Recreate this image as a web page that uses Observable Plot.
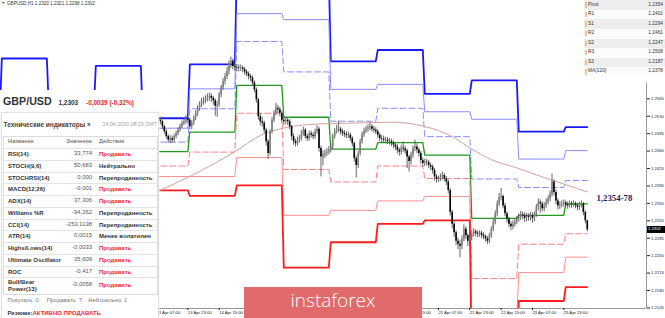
<!DOCTYPE html>
<html lang="ru"><head><meta charset="utf-8">
<script src="https://cdn.jsdelivr.net/npm/d3@7"></script>
<script src="https://cdn.jsdelivr.net/npm/@observablehq/plot@0.6"></script>
<style>
html,body{margin:0;padding:0;background:#fff;}
#wrap{position:relative;width:665px;height:318px;overflow:hidden;background:#fff;font-family:"Liberation Sans",Arial,sans-serif;}
#wrap svg{position:absolute;left:0;top:0;}
.a{position:absolute;white-space:nowrap;line-height:1;}
</style></head><body><div id="wrap"></div>
<script>
// ---------- chart header ----------
const chartTitle = "GBPUSD,H1";
const chartOHLC = ["1.2320", "1.2321", "1.2298", "1.2302"];

// ---------- daily pivot levels (bar index 0 = 13 Apr 00:00, H1 bars) ----------
const days = ["07 Apr","08 Apr","09 Apr","10 Apr","13 Apr","14 Apr","15 Apr","16 Apr","17 Apr","20 Apr","21 Apr","22 Apr","23 Apr","24 Apr"];
const dayFirstBar = [-96,-72,-48,-24,0,24,48,72,96,120,144,168,192,216];
const lastBar = 227;
const pivotR3 = [1.2540,1.2646,1.2545,1.2631,1.2526,1.2634,1.2823,1.2815,1.2640,1.2663,1.2575,1.2602,1.2499,1.2508];
const pivotR2 = [null,null,null,null,1.2506,1.2585,1.2736,1.2724,1.2584,1.2594,1.2539,1.2524,1.2444,1.2461];
const pivotR1 = [null,null,null,null,1.2478,1.2545,1.2680,1.2619,1.2520,1.2546,1.2489,1.2404,1.2387,1.2401];
const pivotP  = [null,null,null,null,1.2459,1.2498,1.2592,1.2528,1.2464,1.2477,1.2452,1.2325,1.2331,1.2354];
const pivotS1 = [null,null,null,null,1.2430,1.2458,1.2536,1.2423,1.2398,1.2430,1.2405,1.2204,1.2273,1.2294];
const pivotS2 = [null,null,null,null,1.2409,1.2409,1.2447,1.2331,1.2341,1.2360,1.2369,1.2127,1.2216,1.2247];
const pivotS3 = [null,null,null,null,1.2381,1.2370,1.2391,1.2226,1.2277,1.2314,1.2321,1.2008,1.2159,1.2187];

// ---------- MA(120) read at some bars ----------
const maBar   = [8,25,47,60,73,85,97,110,127,144,158,168,178,192,204,216,227];
const maValue = [1.23798,1.24112,1.24588,1.24912,1.25073,1.25134,1.25154,1.25165,1.25181,1.25094,1.24891,1.2464,1.2443,1.2425,1.24082,1.23926,1.2378];

// ---------- H1 candles, prices in 1/10000 (open = previous close) ----------
const firstBar = 8;
const firstOpen = 12525;
const closes = [
12522,12519,12509,12499,12489,12482,12485,12482,12489,12495,
12502,12509,12516,12519,12525,12522,12509,12516,12526,12536,
12546,12553,12560,12561,12565,12568,12570,12566,12561,12550,
12553,12573,12587,12600,12610,12620,12634,12641,12630,12628,
12627,12626,12627,12624,12619,12615,12610,12607,12597,12583,
12563,12529,12519,12516,12502,12479,12455,12499,12522,12536,
12546,12543,12536,12522,12519,12522,12519,12509,12489,12479,
12475,12482,12485,12495,12502,12489,12485,12495,12492,12489,
12499,12504,12465,12448,12452,12455,12458,12462,12468,12489,
12499,12504,12504,12499,12495,12493,12491,12492,12485,12475,
12445,12431,12455,12479,12493,12500,12504,12507,12509,12504,
12502,12499,12492,12485,12484,12482,12482,12479,12479,12475,
12472,12468,12462,12458,12466,12464,12460,12448,12439,12452,
12465,12468,12462,12455,12441,12435,12438,12437,12431,12428,
12421,12408,12403,12404,12408,12411,12404,12398,12381,12337,
12313,12296,12279,12273,12269,12283,12303,12290,12279,12286,
12293,12298,12295,12293,12295,12291,12288,12284,12279,12290,
12303,12317,12334,12354,12367,12369,12350,12334,12323,12313,
12308,12313,12318,12323,12327,12332,12330,12325,12329,12327,
12330,12325,12332,12347,12357,12354,12344,12350,12358,12364,
12374,12398,12377,12360,12350,12352,12354,12356,12352,12350,
12354,12352,12354,12350,12347,12352,12354,12337,12320,12302];
const highs = [
12530,12528,12522,12512,12503,12493,12491,12490,12494,12500,
12507,12514,12520,12525,12531,12530,12526,12521,12531,12541,
12551,12559,12566,12568,12571,12575,12577,12575,12570,12565,
12560,12578,12592,12606,12616,12628,12641,12649,12645,12636,
12634,12633,12633,12631,12628,12623,12619,12614,12611,12601,
12587,12566,12535,12528,12520,12506,12483,12503,12527,12541,
12556,12552,12548,12540,12528,12527,12527,12523,12512,12494,
12484,12488,12491,12501,12508,12506,12494,12500,12500,12497,
12504,12511,12508,12470,12460,12462,12465,12469,12475,12494,
12505,12512,12520,12508,12504,12501,12499,12498,12496,12489,
12478,12450,12460,12484,12498,12506,12510,12513,12516,12513,
12510,12507,12503,12496,12491,12490,12488,12487,12485,12484,
12480,12477,12473,12466,12472,12478,12470,12464,12452,12458,
12470,12482,12474,12466,12459,12446,12444,12443,12441,12436,
12432,12425,12413,12410,12414,12418,12415,12409,12402,12385,
12341,12318,12300,12285,12280,12290,12312,12308,12294,12292,
12299,12304,12302,12300,12300,12299,12296,12292,12289,12295,
12308,12323,12340,12360,12375,12385,12372,12355,12338,12327,
12318,12320,12324,12329,12334,12339,12338,12336,12335,12334,
12337,12336,12338,12353,12364,12362,12358,12356,12364,12370,
12380,12414,12402,12382,12364,12358,12360,12362,12360,12358,
12360,12359,12360,12358,12355,12357,12360,12357,12340,12321];
const lows = [
12515,12513,12503,12494,12484,12476,12475,12476,12478,12485,
12491,12498,12505,12511,12514,12516,12503,12503,12512,12521,
12530,12540,12547,12552,12555,12559,12560,12558,12552,12530,
12528,12548,12567,12582,12593,12604,12613,12626,12623,12620,
12619,12619,12620,12617,12612,12609,12603,12600,12590,12577,
12556,12522,12511,12508,12495,12470,12443,12450,12494,12517,
12531,12535,12529,12516,12512,12513,12512,12503,12482,12472,
12468,12470,12476,12480,12490,12484,12479,12480,12486,12483,
12484,12494,12458,12408,12430,12445,12449,12452,12456,12463,
12484,12494,12497,12492,12489,12487,12485,12485,12479,12468,
12438,12406,12425,12450,12474,12488,12495,12498,12501,12498,
12496,12493,12486,12479,12477,12476,12475,12473,12472,12469,
12465,12461,12455,12450,12452,12457,12453,12425,12418,12432,
12446,12459,12455,12448,12434,12428,12429,12430,12425,12421,
12414,12400,12396,12397,12399,12402,12398,12391,12374,12330,
12304,12287,12270,12262,12246,12262,12278,12282,12268,12272,
12280,12288,12288,12286,12287,12284,12282,12277,12272,12274,
12285,12298,12312,12328,12348,12360,12344,12328,12316,12306,
12300,12302,12307,12312,12317,12321,12322,12317,12318,12319,
12320,12315,12318,12327,12340,12335,12338,12338,12345,12352,
12358,12368,12370,12352,12342,12343,12346,12348,12346,12343,
12346,12345,12347,12344,12340,12341,12346,12330,12314,12298];

// ---------- axes ----------
const priceTicks = [1.2145,1.2180,1.2215,1.2250,1.2285,1.2320,1.2355,1.2390,1.2425,1.2460,1.2495,1.2530,1.2565];
const timeTickBar = [7,23,39,55,71,87,103,119,135,151,167,183,199,215];
const timeTickText = ["13 Apr 07:00","13 Apr 23:00","14 Apr 15:00","15 Apr 07:00","15 Apr 23:00","16 Apr 15:00","17 Apr 07:00","17 Apr 23:00","20 Apr 15:00","21 Apr 07:00","21 Apr 23:00","22 Apr 15:00","23 Apr 07:00","23 Apr 23:00"];
const keyLevelText = "1,2354-78";

// ---------- right pivot table ----------
const pivotTableNames  = ["Pivot","R1","S1","R2","S2","R3","S3","MA(120)"];
const pivotTableValues = ["1.2354","1.2401","1.2294","1.2461","1.2247","1.2508","1.2187","1.2378"];

// ---------- left widget ----------
const widgetPair = "GBP/USD";
const widgetPrice = "1,2303";
const widgetChange = "-0,0039 (-0,32%)";
const widgetTitle = "Технические индикаторы";
const widgetDate = "24.04.2020 08:29 GMT";
const widgetHeads = ["Название","Значение","Действие"];
const indicatorNames = ["RSI(14)","STOCH(9,6)","STOCHRSI(14)","MACD(12,26)","ADX(14)","Williams %R","CCI(14)","ATR(14)","Highs/Lows(14)","Ultimate Oscillator","ROC","Bull/Bear\nPower(13)"];
const indicatorValues = ["33,774","50,683","0,000","-0,001","37,306","-94,262","-253,1138","0,0015","-0,0033","35,609","-0,417","-0,0058"];
const indicatorActions = ["Продавать","Нейтрально","Перепроданность","Продавать","Продавать","Перепроданность","Перепроданность","Менее волатилен","Продавать","Продавать","Продавать","Продавать"];
const summaryCounts = ["Покупать: 0","Продавать: 7","Нейтрально: 1"];
const summaryLabel = "Резюме:";
const summaryValue = "АКТИВНО ПРОДАВАТЬ";
const logoText = "instaforex";

// ================= build =================
const logoBox = {x: 244, y: 287, w: 178, h: 31};
function steps(values) {
  const out = [];
  values.forEach((v, k) => {
    if (v == null) return;
    const s = dayFirstBar[k];
    const e = k === days.length - 1 ? lastBar : s + 23;
    out.push({bar: s, price: v}, {bar: e, price: v});
  });
  return out;
}
const levels = [
  {values: pivotR3, stroke: "#1a1aff", width: 1.8},
  {values: pivotR2, stroke: "#8a8aff", width: 1},
  {values: pivotR1, stroke: "#8a8aff", width: 1, dash: "6,3"},
  {values: pivotP,  stroke: "#1f9a1f", width: 1.3},
  {values: pivotS1, stroke: "#ff8080", width: 1, dash: "6,3"},
  {values: pivotS2, stroke: "#ff8f8f", width: 1},
  {values: pivotS3, stroke: "#ff1c1c", width: 1.8}
];
const bars = closes.map((c, k) => ({
  bar: firstBar + k,
  open: (k ? closes[k - 1] : firstOpen) / 1e4,
  close: c / 1e4, high: highs[k] / 1e4, low: lows[k] / 1e4
}));
const ma = maBar.map((b, k) => ({bar: b, price: maValue[k]}));
const xDomain = [-72.68, 257.25];
const yDomain = [1.214393, 1.276242];
const xPix = b => (b - xDomain[0]) / (xDomain[1] - xDomain[0]) * 646;
// labels that sit completely under the logo are hidden in the original, so they are not drawn
const timeTicks = timeTickBar.map((b, k) => ({bar: b, text: timeTickText[k]}));
const visibleTicks = timeTicks.filter(t => !(xPix(t.bar) > logoBox.x && xPix(t.bar) + 28 < logoBox.x + logoBox.w));
const keyLevel = [{bar: lastBar, price: (pivotP[pivotP.length - 1] + maValue[maValue.length - 1]) / 2, text: keyLevelText}];

const plot = Plot.plot({
  width: 665, height: 318,
  marginLeft: 0, marginRight: 19, marginTop: 0, marginBottom: 10,
  x: {domain: xDomain, axis: null},
  y: {domain: yDomain, axis: null},
  style: {background: "#fff", fontFamily: "'Liberation Sans', Arial, sans-serif", color: "#222", overflow: "visible"},
  marks: [
    ...levels.map(L => Plot.line(steps(L.values), {x: "bar", y: "price", stroke: L.stroke, strokeWidth: L.width, strokeDasharray: L.dash, clip: true})),
    Plot.line(ma, {x: "bar", y: "price", stroke: "#d6a09c", strokeWidth: 1, curve: "monotone-x", clip: true}),
    Plot.ruleX(bars, {x: "bar", y1: "low", y2: "high", stroke: "#555", strokeWidth: 0.9}),
    Plot.ruleX(bars.filter(d => d.close >= d.open), {x: "bar", y1: "open", y2: "close", stroke: "#808080", strokeWidth: 1.6}),
    Plot.ruleX(bars.filter(d => d.close < d.open), {x: "bar", y1: "open", y2: "close", stroke: "#000", strokeWidth: 1.6}),
    Plot.ruleY([yDomain[0]], {stroke: "#999"}),
    Plot.ruleX([xDomain[1]], {stroke: "#999"}),
    Plot.axisY(priceTicks, {anchor: "right", tickSize: 3, tickPadding: 1.5, tickFormat: d => d.toFixed(4), fontSize: 4.2, label: null}),
    Plot.axisX(visibleTicks.map(t => t.bar), {anchor: "bottom", tickSize: 2, tickPadding: 1, tickFormat: d => visibleTicks.find(t => t.bar === d).text, textAnchor: "start", fontSize: 4.2, label: null}),
    Plot.text(keyLevel, {x: "bar", y: "price", text: "text", textAnchor: "start", dx: 9.2, fontSize: 8.8, fontWeight: "bold", fontFamily: "'Liberation Serif', 'DejaVu Serif', serif", fill: "#1d1d5a"})
  ]
});
const wrap = document.getElementById("wrap");
wrap.appendChild(plot);

function box(x, y, w, h, css) {
  const d = document.createElement("div");
  d.className = "a";
  Object.assign(d.style, {left: x + "px", top: y + "px", width: w + "px", height: h + "px"}, css || {});
  wrap.appendChild(d);
  return d;
}
function put(txt, x, yc, size, o = {}) {
  const d = document.createElement("div");
  d.className = "a";
  d.textContent = txt;
  d.style.fontSize = size + "px";
  d.style.top = (yc - 0.49 * size) + "px";
  if (o.right != null) { d.style.left = (o.right - 200) + "px"; d.style.width = "200px"; d.style.textAlign = "right"; }
  else d.style.left = x + "px";
  if (o.bold) d.style.fontWeight = "bold";
  d.style.color = o.color || "#333";
  if (o.family) d.style.fontFamily = o.family;
  wrap.appendChild(d);
  return d;
}

// chart header
put("▼", 1.5, 3.8, 3.5, {color: "#333"});
put(chartTitle + "  " + chartOHLC.join(" "), 7, 3.8, 4.6, {color: "#333"});

// current price tag
const yScale = plot.scale("y");
const lastY = yScale.apply(closes[closes.length - 1] / 1e4);
box(646.5, lastY - 3.3, 18.5, 6.6, {background: "#000"});
put((closes[closes.length - 1] / 1e4).toFixed(4), 648, lastY, 4.2, {color: "#fff"});

// right pivot table
box(583, 0, 82, 83, {background: "#fff"});
pivotTableNames.forEach((n, k) => {
  const top = 0.3 + k * 9.55;
  box(584, top, 81, 9.3, {background: k % 2 === 0 ? "#eeeeee" : "#fbfbfb"});
  box(585, top + 2, 1.6, 5.4, {background: "#e8c58e"});
  put(n, 588, top + 4.7, 4.8, {color: "#333"});
  put(pivotTableValues[k], 0, top + 4.7, 4.8, {right: 663, color: "#333"});
});

// left widget
box(0, 90, 159, 228, {background: "#fff"});
put(widgetPair, 3, 101.2, 10.7, {bold: true, color: "#333"});
put(widgetPrice, 58.5, 102.8, 6.4, {bold: true, color: "#333"});
put(widgetChange, 86, 102.8, 6.4, {bold: true, color: "#e8262a"});
box(1, 112, 156, 205, {border: "1px solid #e2e2e2", boxShadow: "0 0 2px #eee"});
put(widgetTitle + " »", 3.5, 125, 6.5, {bold: true, color: "#444"});
put(widgetDate, 0, 125, 5.3, {right: 157, color: "#a0a0a0"});
box(3, 135.5, 153, 157, {border: "1px solid #dcdcdc"});
put(widgetHeads[0], 8, 142, 5.8, {color: "#555"});
put(widgetHeads[1], 0, 142, 5.8, {right: 92, color: "#555"});
put(widgetHeads[2], 99, 142, 5.8, {color: "#555"});
const rowTop0 = 148.2, rowH = 11.75;
indicatorNames.forEach((n, k) => {
  const top = rowTop0 + k * rowH;
  const h = k === indicatorNames.length - 1 ? 15.5 : rowH;
  box(4, top, 153, 0.8, {background: "#e4e4e4"});
  const yc = top + h / 2;
  const parts = n.split("\n");
  if (parts.length === 1) put(n, 8, yc, 6, {bold: true, color: "#333"});
  else parts.forEach((p, j) => put(p, 8, yc - 3.6 + j * 7.2, 6, {bold: true, color: "#333"}));
  put(indicatorValues[k], 0, yc, 5.9, {right: 92, color: "#555"});
  const act = indicatorActions[k];
  put(act, 99, yc, 6, {bold: true, color: act === "Продавать" ? "#f02b2b" : "#333"});
});
put(summaryCounts[0], 7.5, 300.7, 5.8, {color: "#777"});
put(summaryCounts[1], 46.7, 300.7, 5.8, {color: "#777"});
put(summaryCounts[2], 88.3, 300.7, 5.8, {color: "#777"});
const s1 = put(summaryLabel, 7.5, 312.7, 6, {bold: true, color: "#333"});
const s2 = document.createElement("span");
s2.textContent = summaryValue; s2.style.color = "#f02b2b";
s1.appendChild(s2);

// logo
const logo = box(logoBox.x, logoBox.y, logoBox.w, logoBox.h, {background: "#e16b6b"});
const lt = document.createElement("div");
lt.textContent = logoText;
Object.assign(lt.style, {position: "absolute", left: "0", width: logoBox.w + "px", top: "4.4px", textAlign: "center", lineHeight: "1", fontSize: "19px", fontFamily: "'Open Sans', sans-serif", fontWeight: "300", color: "#fff"});
logo.appendChild(lt);
</script></body></html>
